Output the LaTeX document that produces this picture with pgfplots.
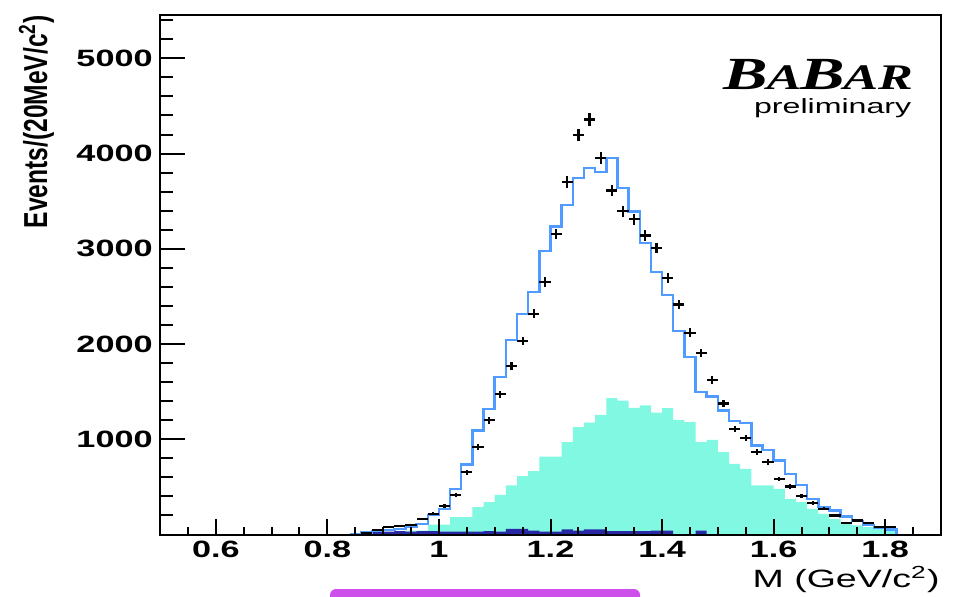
\documentclass[border=0pt]{standalone}
\usepackage{fontspec}
\setmainfont{Liberation Sans}
\newfontfamily\logofont{Liberation Serif}
\usepackage{graphicx}
\usepackage{pgfplots}
\usepackage{pgfplotstable}
\pgfplotsset{compat=1.18}

\definecolor{mcblue}{RGB}{80,155,255}
\definecolor{bkgcyan}{RGB}{128,248,226}
\definecolor{peaknavy}{RGB}{40,40,165}
\definecolor{slideviolet}{RGB}{205,80,235}

% measured mass spectrum: bin centre, counts, half bin width, stat. error
\pgfplotstableread{
x    y    ex   ey
0.87 20   0.01 5
0.89 45   0.01 7
0.91 80   0.01 9
0.93 91   0.01 10
0.95 103  0.01 10
0.97 165  0.01 13
0.99 217  0.01 15
1.01 300  0.01 17
1.03 413  0.01 20
1.05 654  0.01 26
1.07 917  0.01 30
1.09 1200 0.01 35
1.11 1473 0.01 38
1.13 1770 0.01 42
1.15 2030 0.01 45
1.17 2317 0.01 48
1.19 2649 0.01 51
1.21 3157 0.01 56
1.23 3703 0.01 61
1.25 4197 0.01 65
1.27 4358 0.01 66
1.29 3955 0.01 63
1.31 3612 0.01 60
1.33 3393 0.01 58
1.35 3310 0.01 58
1.37 3140 0.01 56
1.39 3006 0.01 55
1.41 2695 0.01 52
1.43 2415 0.01 49
1.45 2118 0.01 46
1.47 1908 0.01 44
1.49 1624 0.01 40
1.51 1375 0.01 37
1.53 1110 0.01 33
1.55 1015 0.01 32
1.57 864  0.01 29
1.59 763  0.01 28
1.61 581  0.01 24
1.63 504  0.01 22
1.65 402  0.01 20
1.67 329  0.01 18
1.69 270  0.01 16
1.71 200  0.01 14
1.73 123  0.01 11
1.75 147  0.01 12
1.77 119  0.01 11
1.80 75   0.02 70
}\datatable

% simulated total (left bin edges)
\pgfplotstableread{
x    y
0.84 0
0.86 20
0.88 35
0.90 45
0.92 60
0.94 77
0.96 112
0.98 207
1.00 270
1.02 480
1.04 735
1.06 1092
1.08 1320
1.10 1652
1.12 2040
1.14 2317
1.16 2544
1.18 2975
1.20 3234
1.22 3462
1.24 3745
1.26 3847
1.28 3805
1.30 3955
1.32 3640
1.34 3391
1.36 3059
1.38 2754
1.40 2517
1.42 2135
1.44 1862
1.46 1494
1.48 1449
1.50 1300
1.52 1190
1.54 1169
1.56 934
1.58 889
1.60 777
1.62 637
1.64 522
1.66 375
1.68 287
1.70 252
1.72 189
1.74 140
1.76 100
1.78 75
1.80 55
1.82 0
}\mctable

% background component (left bin edges)
\pgfplotstableread{
x    y
0.94 40
0.96 42
0.98 103
1.00 103
1.02 182
1.04 182
1.06 287
1.08 340
1.10 415
1.12 515
1.14 613
1.16 665
1.18 819
1.20 819
1.22 970
1.24 1127
1.26 1176
1.28 1256
1.30 1431
1.32 1407
1.34 1330
1.36 1355
1.38 1280
1.40 1328
1.42 1204
1.44 1180
1.46 970
1.48 994
1.50 864
1.52 742
1.54 690
1.56 515
1.58 515
1.60 480
1.62 375
1.64 340
1.66 270
1.68 217
1.70 165
1.72 130
1.74 95
1.76 77
1.78 60
1.80 60
1.82 0
}\bkgtable

% small peaking component (left bin edges)
\pgfplotstableread{
x    y
0.88 25
0.90 30
0.92 35
0.94 30
0.96 35
0.98 35
1.00 30
1.02 30
1.04 30
1.06 30
1.08 35
1.10 30
1.12 60
1.14 60
1.16 40
1.18 30
1.20 30
1.22 55
1.24 40
1.26 55
1.28 55
1.30 35
1.32 35
1.34 35
1.36 35
1.38 40
1.40 40
1.42 0
1.44 0
1.46 40
1.48 0
}\peaktable

\begin{document}
\begin{tikzpicture}[x=1pt,y=1pt]
\useasboundingbox (0,0) rectangle (478.5,298);
\begin{axis}[
  at={(80pt,30.75pt)}, anchor=south west,
  scale only axis, width=390.5pt, height=259.75pt,
  xmin=0.5, xmax=1.9, ymin=0, ymax=5455,
  axis on top,
  axis line style={line width=1pt, black},
  tick align=inside,
  xtick pos=left, ytick pos=left,
  xtick={0.6,0.8,1.0,1.2,1.4,1.6,1.8},
  minor xtick={0.55,0.65,0.7,0.75,0.85,0.9,0.95,1.05,1.1,1.15,1.25,1.3,1.35,1.45,1.5,1.55,1.65,1.7,1.75,1.85},
  ytick={1000,2000,3000,4000,5000},
  minor ytick={200,400,600,800,1200,1400,1600,1800,2200,2400,2600,2800,3200,3400,3600,3800,4200,4400,4600,4800,5200,5400},
  major tick length=12.5pt, minor tick length=6.5pt,
  xtick style={/pgfplots/major tick length=8pt, /pgfplots/minor tick length=4pt},
  every tick/.style={black, line width=1pt},
  /pgf/number format/assume math mode=true,
  /pgf/number format/1000 sep={},
  xticklabel={\scalebox{1.45}[1]{\pgfmathprintnumber{\tick}}},
  yticklabel={\scalebox{1.45}[1]{\pgfmathprintnumber{\tick}}},
  ticklabel style={font=\fontsize{11.8pt}{12pt}\selectfont\bfseries, inner sep=0pt},
  xticklabel style={anchor=north, yshift=-3.25pt},
  yticklabel style={anchor=east, xshift=-3.5pt},
]
\addplot[const plot, fill=bkgcyan, draw=none] table[x=x, y=y] {\bkgtable} \closedcycle;
\addplot[const plot, fill=peaknavy, draw=none] table[x=x, y=y] {\peaktable} \closedcycle;
\addplot[const plot, draw=mcblue, line width=1.25pt] table[x=x, y=y] {\mctable};
% data points drawn as bare error crosses
\addplot[draw=none, mark=none,
  error bars/.cd, x dir=both, x explicit, y dir=both, y explicit,
  error mark=none, error bar style={draw=black, line width=1.1pt, solid}]
  table[x=x, y=y, x error=ex, y error=ey] {\datatable};
\end{axis}

% axis titles
\node[anchor=base east, inner sep=0pt] at (470,4.5)
  {\scalebox{1.5}[1]{\fontsize{12.5pt}{13pt}\selectfont M (GeV/c\textsuperscript{2})}};
\node[anchor=base east, inner sep=0pt, rotate=90] at (23.5,290.5)
  {\scalebox{1}[1.35]{\fontsize{12.3pt}{13pt}\selectfont\bfseries Events/(20MeV/c\textsuperscript{2})}};

% experiment logo
\node[anchor=base east, inner sep=0pt] at (456.7,253.5)
  {\scalebox{1.45}[1]{\logofont\bfseries\itshape\fontsize{23pt}{24pt}\selectfont B\kern-0.5pt{\fontsize{18pt}{18pt}\selectfont A}\kern-0.5pt B\kern-0.5pt{\fontsize{18pt}{18pt}\selectfont AR}}};
\node[anchor=base east, inner sep=0pt] at (455.8,241.5)
  {\scalebox{1.56}[1]{\fontsize{10.3pt}{11pt}\selectfont preliminary}};

% edge of the box below the plot
\fill[slideviolet, rounded corners=3pt] (165,-6) rectangle (320,3.5);
\end{tikzpicture}
\end{document}
